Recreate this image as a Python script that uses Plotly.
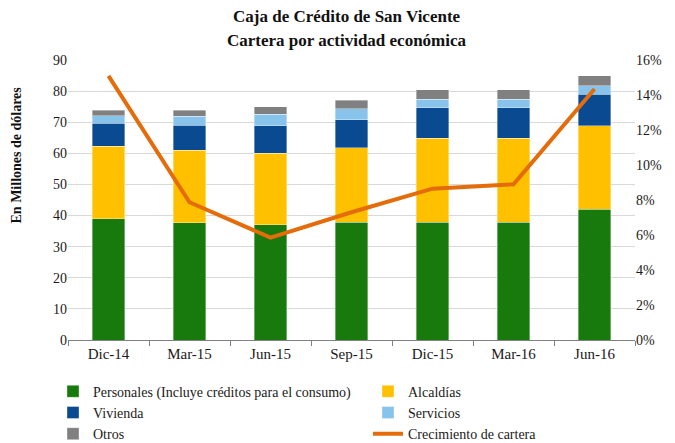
import plotly.graph_objects as go

categories = ["Dic-14", "Mar-15", "Jun-15", "Sep-15", "Dic-15", "Mar-16", "Jun-16"]
personales = [38.9, 37.7, 37.1, 37.9, 37.8, 37.8, 42.1]
alcaldias = [23.4, 23.3, 22.9, 23.9, 27.1, 27.1, 26.7]
vivienda = [7.3, 8.1, 8.8, 9.0, 9.7, 9.7, 10.2]
servicios = [2.5, 2.8, 3.8, 3.6, 2.8, 2.8, 2.8]
otros = [1.7, 2.0, 2.3, 2.6, 3.1, 3.1, 3.2]
crecimiento = [0.1509, 0.0787, 0.0585, 0.073, 0.0865, 0.089, 0.1434]

FONT = "Liberation Serif, serif"
TXT = "#1a1a1a"
bar_line = dict(color="rgba(255,255,255,0.6)", width=0.6)

fig = go.Figure()
series = [
    ("Personales (Incluye créditos para el consumo)", personales, "#187A0C"),
    ("Alcaldías", alcaldias, "#FFC000"),
    ("Vivienda", vivienda, "#0A4A90"),
    ("Servicios", servicios, "#87C3EB"),
    ("Otros", otros, "#808080"),
]
for name, vals, col in series:
    fig.add_trace(go.Bar(x=categories, y=vals, name=name,
                         marker=dict(color=col, line=bar_line)))

fig.add_trace(go.Scatter(x=categories, y=crecimiento, name="Crecimiento de cartera",
                         mode="lines", line=dict(color="#E46C0A", width=4),
                         yaxis="y2"))

fig.update_layout(
    width=675, height=460,
    barmode="stack", bargap=0.6,
    plot_bgcolor="white", paper_bgcolor="white",
    font=dict(family=FONT, size=14, color=TXT),
    margin=dict(l=60, r=48, t=52, b=128),
    xaxis=dict(showline=True, linecolor="#808080", linewidth=1,
               ticks="outside", tickson="boundaries", ticklen=5, tickcolor="#808080",
               showgrid=False, tickfont=dict(family=FONT, size=15, color=TXT)),
    yaxis=dict(range=[0, 90], dtick=10, showgrid=True, gridcolor="#D9D9D9", gridwidth=1,
               zeroline=False, showline=False,
               tickfont=dict(family=FONT, size=14, color=TXT)),
    yaxis2=dict(range=[0, 0.16], dtick=0.02, tickformat=".0%", overlaying="y", side="right",
                showgrid=False, zeroline=False, showline=False,
                tickfont=dict(family=FONT, size=14, color=TXT)),
    legend=dict(orientation="h", x=-0.009, xanchor="left",
                y=-0.1275, yanchor="top",
                entrywidth=270, entrywidthmode="pixels", traceorder="normal",
                font=dict(family=FONT, size=14, color=TXT), tracegroupgap=0),
    showlegend=True,
    annotations=[
        dict(text="<b>Caja de Crédito de San Vicente</b>", xref="paper", yref="paper",
             x=0.492, y=1.154, xanchor="center", yanchor="middle", showarrow=False,
             font=dict(family=FONT, size=17, color="#111111")),
        dict(text="<b>Cartera por actividad económica</b>", xref="paper", yref="paper",
             x=0.492, y=1.071, xanchor="center", yanchor="middle", showarrow=False,
             font=dict(family=FONT, size=17, color="#111111")),
        dict(text="<b>En Millones de dólares</b>", xref="paper", yref="paper",
             x=-0.09, y=0.6625, xanchor="center", yanchor="middle", textangle=-90,
             showarrow=False, font=dict(family=FONT, size=14, color="#111111")),
    ],
)

fig.write_html("out.html")
